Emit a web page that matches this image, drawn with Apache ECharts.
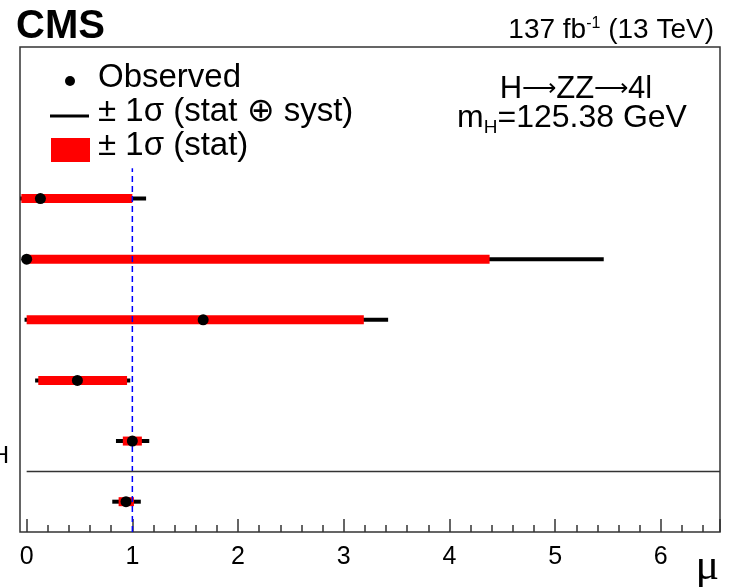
<!DOCTYPE html>
<html>
<head>
<meta charset="utf-8">
<script src="https://cdn.jsdelivr.net/npm/echarts@6/dist/echarts.min.js"></script>
<style>html, body { margin: 0; padding: 0; background: #fff; }</style>
</head>
<body>
<div id="main" style="width: 730px; height: 587px"></div>
<script type="text/javascript">
// rows from top to bottom (row label text is cut off in the reference)
var rowPos   = [6, 5, 4, 3, 2, 1];
var observed = [0.13, 0.00, 1.67, 0.48, 1.00, 0.94];
var statLo   = [-0.05, 0.00, 0.00, 0.11, 0.91, 0.87];
var statHi   = [1.00, 4.38, 3.19, 0.95, 1.09, 1.015];
var totLo    = [-0.06, 0.00, -0.02, 0.08, 0.845, 0.81];
var totHi    = [1.13, 5.46, 3.42, 0.98, 1.16, 1.08];
var xTicks   = [0, 1, 2, 3, 4, 5, 6];
var smValue  = 1;
var sepPos   = 1.5;

var FONT = '"Liberation Sans", Arial, sans-serif';
var XMIN = -0.063, XMAX = 6.56, YMIN = 0.5, YMAX = 8.5;

var myChart = echarts.init(document.getElementById('main'));

function rangeData(lo, hi) {
    return rowPos.map(function (p, i) { return [lo[i], hi[i], p]; });
}

option = {
    animation: false,
    grid: [
        { left: 20, right: 10, top: 47, bottom: 55, show: true,
          borderColor: '#333', borderWidth: 1.5, backgroundColor: 'transparent' },
        { left: 26.7, right: 10, top: 47, bottom: 55 }
    ],
    xAxis: [
        { type: 'value', gridIndex: 0, min: XMIN, max: XMAX, show: false },
        {
            type: 'value', gridIndex: 1, min: 0, max: XMAX, interval: 1,
            axisLine: { show: false },
            axisTick: { show: true, inside: true, length: 13, lineStyle: { color: '#333', width: 1.5 } },
            minorTick: { show: true, splitNumber: 5, length: 7, lineStyle: { color: '#333', width: 1.5 } },
            splitLine: { show: false },
            axisLabel: {
                fontSize: 25, fontFamily: FONT, color: '#000', margin: 13,
                formatter: function (v) { return xTicks.indexOf(v) >= 0 ? String(v) : ''; }
            }
        }
    ],
    yAxis: [
        { type: 'value', gridIndex: 0, min: YMIN, max: YMAX, show: false },
        { type: 'value', gridIndex: 1, min: YMIN, max: YMAX, show: false }
    ],
    series: [
        {
            type: 'custom', xAxisIndex: 0, yAxisIndex: 0, z: 2,
            data: rangeData(totLo, totHi),
            encode: { x: [0, 1], y: 2 },
            renderItem: function (params, api) {
                var a = api.coord([api.value(0), api.value(2)]);
                var b = api.coord([api.value(1), api.value(2)]);
                return { type: 'line', shape: { x1: a[0], y1: a[1], x2: b[0], y2: b[1] },
                         style: { stroke: '#000', lineWidth: 4 } };
            }
        },
        {
            type: 'custom', xAxisIndex: 0, yAxisIndex: 0, z: 3,
            data: rangeData(statLo, statHi),
            encode: { x: [0, 1], y: 2 },
            renderItem: function (params, api) {
                var a = api.coord([api.value(0), api.value(2)]);
                var b = api.coord([api.value(1), api.value(2)]);
                return { type: 'rect', shape: { x: a[0], y: a[1] - 4.5, width: b[0] - a[0], height: 9 },
                         style: { fill: '#ff0000' } };
            }
        },
        {
            type: 'line', xAxisIndex: 0, yAxisIndex: 0, z: 4, symbol: 'none',
            data: [[smValue, YMIN], [smValue, 6.5]],
            lineStyle: { color: '#0000ff', width: 1.5, type: [6, 4] }
        },
        {
            type: 'line', xAxisIndex: 0, yAxisIndex: 0, z: 4, symbol: 'none',
            data: [[0, sepPos], [XMAX, sepPos]],
            lineStyle: { color: '#333', width: 1.5 }
        },
        {
            type: 'scatter', xAxisIndex: 0, yAxisIndex: 0, z: 10,
            symbolSize: 11, itemStyle: { color: '#000', opacity: 1 },
            data: rowPos.map(function (p, i) { return [observed[i], p]; })
        }
    ],
    graphic: [
        { type: 'text', x: 16, y: 27, style: { text: 'CMS', font: 'bold 40px ' + FONT, fill: '#000', verticalAlign: 'middle' } },
        { type: 'text', x: 714, y: 30, style: {
            text: '{a|137 fb}{s|-1}{a| (13 TeV)}', align: 'right', verticalAlign: 'middle',
            rich: { a: { fontSize: 28, fontFamily: FONT, color: '#000', lineHeight: 29 },
                    s: { fontSize: 16, fontFamily: FONT, color: '#000', verticalAlign: 'top', lineHeight: 29 } } } },
        // legend
        { type: 'circle', shape: { cx: 70, cy: 81, r: 5 }, style: { fill: '#000' } },
        { type: 'line', shape: { x1: 50, y1: 116, x2: 89, y2: 116 }, style: { stroke: '#000', lineWidth: 3 } },
        { type: 'rect', shape: { x: 51, y: 138, width: 39, height: 24 }, style: { fill: '#ff0000' } },
        { type: 'text', x: 98, y: 78, style: { text: 'Observed', font: '33px ' + FONT, fill: '#000', verticalAlign: 'middle' } },
        { type: 'text', x: 98, y: 112, style: { text: '\u00b1 1\u03c3 (stat \u2295 syst)', font: '33px ' + FONT, fill: '#000', verticalAlign: 'middle' } },
        { type: 'text', x: 98, y: 146, style: { text: '\u00b1 1\u03c3 (stat)', font: '33px ' + FONT, fill: '#000', verticalAlign: 'middle' } },
        // process label
        { type: 'text', x: 576, y: 89, style: {
            text: '{a|H}{r|\u27f6}{a|ZZ}{r|\u27f6}{a|4l}', align: 'center', verticalAlign: 'middle',
            rich: { a: { fontSize: 31, fontFamily: FONT, color: '#000', lineHeight: 32 },
                    r: { fontSize: 24, fontFamily: FONT, color: '#000', lineHeight: 32 } } } },
        { type: 'text', x: 572, y: 118, style: {
            text: '{a|m}{s|H}{a|=125.38 GeV}', align: 'center', verticalAlign: 'middle',
            rich: { a: { fontSize: 32, fontFamily: FONT, color: '#000', lineHeight: 38 },
                    s: { fontSize: 19, fontFamily: FONT, color: '#000', verticalAlign: 'bottom', lineHeight: 38 } } } },
        // axis title and cut-off row label
        { type: 'text', x: 719, y: 567, style: { text: '\u03bc', font: '44px "Liberation Serif", serif', fill: '#000', align: 'right', verticalAlign: 'middle' } },
        { type: 'text', x: 9, y: 456, style: { text: 'H', font: '24px ' + FONT, fill: '#000', align: 'right', verticalAlign: 'middle' } }
    ]
};

myChart.setOption(option);
</script>
</body>
</html>
